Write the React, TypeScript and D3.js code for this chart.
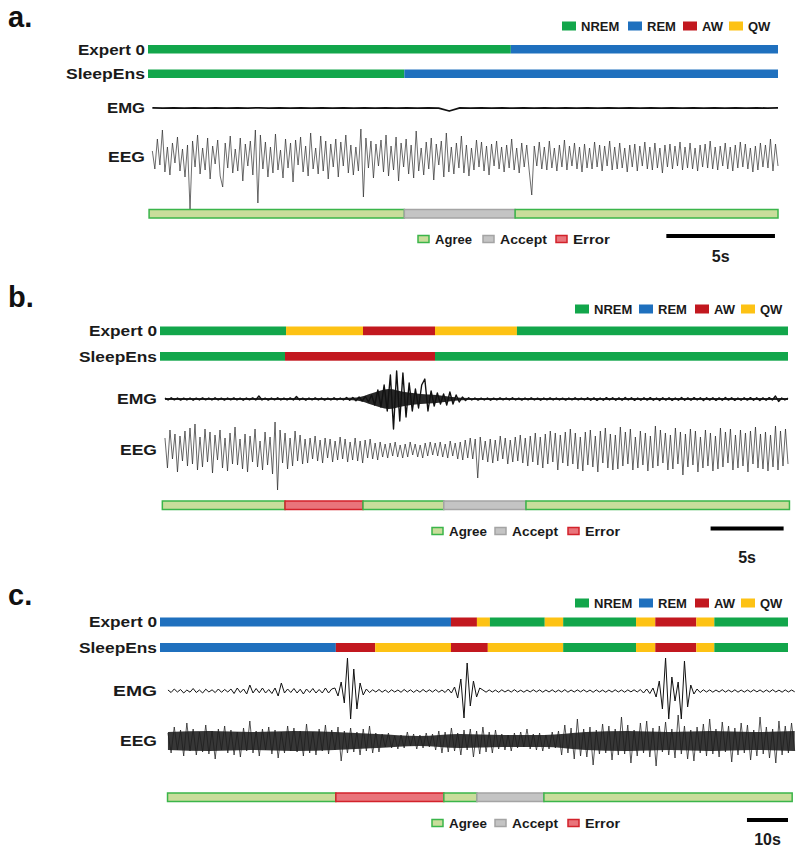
import React from "react";
import * as d3 from "d3";

const W = 800;
const H = 848;
const FONT = "'Liberation Sans', Arial, sans-serif";

const STAGES = ["NREM", "REM", "AW", "QW"];
const STAGE_COLORS = ["#12a64b", "#1f70be", "#c2181f", "#fdc214"];
const AGREE_LABELS = ["Agree", "Accept", "Error"];
const AGREE_FILL = ["#c9dd9b", "#c4c4c4", "#e9747b"];
const AGREE_STROKE = ["#3bb54a", "#a4a4a4", "#d2222b"];

// hypnograms: [stage index, start (s), end (s)]
const A_EXPERT = [[0, 0, 16.7], [1, 16.7, 29]];
const A_SLEEPENS = [[0, 0, 11.8], [1, 11.8, 29]];
const A_AGREE = [[0, 0.05, 11.8], [1, 11.8, 16.9], [0, 16.9, 29]];

const B_EXPERT = [[0, 0, 8.63], [3, 8.63, 13.9], [2, 13.9, 18.83], [3, 18.83, 24.44], [0, 24.44, 43]];
const B_SLEEPENS = [[0, 0, 8.56], [2, 8.56, 18.83], [0, 18.83, 43]];
const B_AGREE = [[0, 0.16, 8.56], [2, 8.56, 13.9], [0, 13.9, 19.43], [1, 19.43, 25.06], [0, 25.06, 43.1]];

const C_EXPERT = [[1, 0, 69.5], [2, 69.5, 75.7], [3, 75.7, 78.8], [0, 78.8, 91.9], [3, 91.9, 96.3], [0, 96.3, 113.7], [3, 113.7, 118.3], [2, 118.3, 128.1], [3, 128.1, 132.4], [0, 132.4, 150]];
const C_SLEEPENS = [[1, 0, 42], [2, 42, 51.4], [3, 51.4, 69.5], [2, 69.5, 78.3], [3, 78.3, 96.3], [0, 96.3, 113.7], [3, 113.7, 118.3], [2, 118.3, 128.1], [3, 128.1, 132.4], [0, 132.4, 150]];
const C_AGREE = [[0, 1.8, 42], [2, 42, 67.8], [0, 67.8, 75.7], [1, 75.7, 91.7], [0, 91.7, 151]];

// traces (arbitrary units, + is up)
const EMG_A = [0.8, -1, 1, -0.8, 1.2, -1, 0.9, -1.1, 1, -0.9, 1.1, -1, 0.8, -1.2, 1, -0.9, 1.1, -1, 1, -0.8,
  1, -1.1, 0.9, -1, 1.2, -0.9, 1, -1, -20, 1, -0.9, 1.1, -1, 0.8, -1.2, 1, -0.9, 1.1, -1, 1,
  -0.8, 1, -1.1, 0.9, -1, 1.2, -0.9, 1, -1, 0.8, -1.2, 1, -0.9, 1.1, -1, 1, -0.8, 1, -1.1, 0.9];

const EEG_A = [6, -12, 18, -8, 27, -15, 10, -18, 14, -6,
  20, -14, 8, -20, 12, -52, 16, -10, 22, -17,
  9, -13, 19, -22, 11, -7, 17, -19, -30, 14,
  -11, 21, -16, 8, -14, 19, -24, 13, -9, 16,
  -18, 27, -46, 22, -12, 15, -20, 10, -16, 23,
  -13, 7, -21, 18, -11, 14, -25, 17, -8, 20,
  -15, 11, -19, 24, -12, 9, -17, 21, -14, 16,
  -22, 13, -10, 18, -20, 15, -9, 22, -16, 12,
  -18, 10, -14, 28, -40, 19, -11, 16, -21, 13,
  -9, 17, -15, 22, -19, 11, -13, 20, -24, 14,
  -10, 18, -17, 12, -21, 26, -14, 9, -18, 15,
  -12, 19, -23, 13, -8, 16, -20, 24, -15, 10,
  -17, 14, -11, 21, -16, 12, -19, 9, -13, 17,
  -10, 15, -14, 11, -18, 13, -9, 16, -12, 10,
  -15, 12, -11, 18, -13, 9, -16, 14, -10, 12,
  -14, -38, 11, -9, 15, -12, 10, -13, 16, -11,
  9, -14, 12, -10, 17, -13, 11, -9, 14, -12,
  10, -15, 13, -11, 9, -12, 15, -10, 12, -14,
  11, -9, 16, -13, 10, -12, 14, -11, 9, -15,
  12, -10, 13, -14, 11, -9, 15, -12, 10, -13,
  14, -11, 9, -16, 12, -10, 13, -12, 11, -9,
  15, -13, 10, -11, 14, -12, 9, -14, 12, -10,
  13, -11, 16, -12, 10, -13, 11, -9, 14, -12,
  10, -14, 12, -11, 15, -10, 13, -12, 9, -15,
  11, -13, 14, -10, 12, -11, 18, -14, 13, -9];

const EMG_B = [1, -1, 1.2, -0.8, 1, -1.1, 0.9, -1, 1, -1.2, 0.8, -1, 1.1, -0.9, 1, -1, 1.2, -1, 0.9, -1.1,
  1, -0.9, 1.1, -1, 0.8, -1.2, 1, -0.9, 1.1, -1, 3, -1, 0.9, -1.1, 1, -0.8, 1.2, -1, 0.9, -1,
  1.1, -1, 2.5, -1, 0.9, -1.2, 1, -0.8, 1.1, -1, 1, -1.1, 0.9, -1, 1.2, -0.9, 1, -1, 1.5, -1.2,
  1.5, -1.8, 2, -2, 2.5,
  -3, 4, -6, 9, -8, 14, -12, 24, -30, 28, -22, 26, -18, 16, -12, 10, -9, 14, 20, -12,
  8, -7, 6, -5, 5, -6, 7, -5, 4, -3,
  2, -1.5, 1.2, -1, 1, -1.1, 0.9, -1, 1, -1.2, 0.8, -1, 1.1, -0.9, 1, -1, 1.2, -1, 0.9, -1.1,
  1, -0.9, 1.1, -1, 0.8, -1.2, 1, -0.9, 1.1, -1, 1, -1, 0.9, -1.1, 1, -0.8, 1.2, -1, 0.9, -1,
  1.3, -1.2, 1.1, -1.4, 1, -1.2, 1.4, -1, 1.2, -1.3, 1.1, -1.2, 1.5, -1, 1.2, -1.4, 1, -1.3, 1.2, -1.1,
  1.4, -1.2, 1, -1.5, 1.3, -1.1, 1.2, -1.4, 1, -1.2, 1.5, -1.3, 1.1, -1.2, 1.4, -1, 1.3, -1.5, 1.2, -1.1,
  1.2, -1.4, 1.1, -1.3, 1.5, -1.1, 1.2, -1.4, 1, -1.3, 1.2, -1.1, 1.4, -1.2, 1.3, -1.5, 1.1, -1.2, 1.4, -1,
  3, -2.5, 1, -1, 0.8];
// envelope of the EMG burst in panel b
const EMG_B_CORE = [1, 1, 1, 1, 1, 1, 1, 1, 1, 1, 1, 1, 1.5, 6, 10, 7, 5, 4, 2, 1,
  1, 1, 1, 1, 1, 1, 1, 1, 1, 1, 1, 1, 1, 1, 1, 1, 1, 1, 1, 1];

const EEG_B = [12, -18, 20, -9, 16, -22, 14, -11, 19, -16,
  22, -14, 26, -20, 13, -17, 21, -12, 18, -23,
  15, -10, 20, -18, 12, -21, 17, -14, 23, -15,
  11, -19, 16, -22, 14, -12, 21, -17, 9, -20,
  18, -15, 13, -24, 28, -40, 20, -13, 17, -19,
  12, -16, 19, -11, 15, -14, 11, -13, 12, -9,
  14, -11, 10, -13, 12, -8, 11, -12, 9, -10,
  13, -9, 11, -12, 8, -10, 12, -11, 9, -13,
  10, -8, 11, -9, 7, -10, 8, -7, 6, -8,
  7, -6, 8, -7, 5, -8, 6, -7, 8, -5,
  6, -7, 5, -8, 7, -6, 8, -5, 7, -6,
  8, -7, 6, -8, 9, -6, 7, -9, 8, -10,
  10, -8, 12, -9, 11, -28, 13, -10, 9, -12,
  11, -13, 10, -11, 14, -9, 12, -14, 10, -12,
  13, -11, 15, -13, 12, -16, 14, -12, 17, -15,
  13, -18, 16, -14, 19, -12, 17, -20, 15, -13,
  18, -16, 21, -14, 17, -19, 13, -21, 18, -15,
  20, -17, 14, -22, 19, -13, 22, -18, 16, -20,
  15, -19, 23, -16, 18, -14, 21, -20, 13, -18,
  19, -15, 17, -21, 14, -18, 24, -16, 20, -13,
  17, -20, 15, -19, 22, -14, 18, -25, 16, -17,
  21, -15, 19, -22, 13, -18, 20, -16, 17, -21,
  14, -19, 22, -17, 18, -13, 21, -20, 15, -18,
  20, -16, 17, -22, 19, -14, 23, -18, 16, -19,
  18, -21, 15, -17, 24, -20, 19, -16, 21, -14];

const EMG_C = [1, -1.5, 2, -1, 1.5, -2, 1, -1.2, 2.5, -1.5, 1, -2, 1.8, -1, 1.2, -1.6, 2, -1.3, 1.5, -1,
  2, -2.5, 3, -1.5, 2, -3, 6, -2, 2.5, -1.8, 3, -2, 1.5, -2.5, 3, -5, 8, -2, 2, -1.5,
  2.5, -2, 1.8, -3, 2, -1.5, 2.5, -2, 1.5, -2, 3, -2, 2,
  3, -5, 9, -12, 33, -28, 22, -18, 8, -4,
  2, -1.5, 1.2, -1, 1.5, -1.2, 1, -1.5, 1.2, -1, 1, -1.3, 1.5, -1, 1.2, -1.4, 1, -1.2, 1.5, -1,
  1.2, -1, 1.4, -1.2, 1, -1.5, 2, -2,
  4, -7, 12, -27, 28, -15, 10, -6, 3,
  1, -1.2, 1.1, -1, 0.9, -1.3, 1.2, -1, 1, -1.1, 1.3, -1, 0.8, -1.2, 1, -1, 1.2, -0.9, 1.1, -1.2,
  1, -1, 1.2, -1.1, 0.9, -1, 1.3, -1.2, 1, -1, 1.1, -0.9, 1.2, -1, 1, -1.3, 1.1, -1, 0.9, -1.2,
  1, -1.1, 1.2, -1, 1, -1.2, 1.1, -0.9, 1.2, -1, 1.5, -2, 2, -2.5,
  3, -6, 10, -18, 33, -28, 14, -10, 9, -28, 30, -16, 6, -3,
  2, -1.5, 1.2, -1, 1.1, -1.2, 1, -1, 1.3, -1.1, 0.9, -1, 1.2, -1.2, 1, -1.1, 1, -1, 1.2, -0.9,
  1.1, -1.2, 1, -1, 1.3, -1, 0.9, -1.2, 1.1, -1, 1, -0.8];

const EEG_C = [8, -12, 14, -9, 11, -15, 18, -10, 12, -14, 9, -11, 16, -13, 10, -18, 12, -9, 15, -12,
  11, -14, 9, -16, 13, -10, 20, -12, 10, -15, 12, -9, 14, -13, 11, -17, 9, -12, 15, -10,
  13, -11, 10, -15, 17, -12, 9, -14, 12, -10, 16, -13, 11, -9, 14, -20, 10, -12, 13, -11,
  9, -14, 12, -10, 15, -12, 8, -11, 7, -6, 8, -7, 5, -8, 6, -7, 9, -5, 7, -8,
  6, -7, 8, -6, 7, -9, 10, -12, 9, -11, 13, -10, 8, -14, 11, -9, 12, -16, 10, -13,
  14, -11, 9, -12, 11, -8, 7, -9, 6, -10, 8, -7, 9, -6, 12, -8, 7, -9, 8, -10,
  6, -8, 9, -7, 10, -14, 16, -12, 13, -18, 22, -15, 12, -16, 14, -24, 11, -13, 17, -12,
  15, -19, 12, -14, 24, -13, 16, -22, 11, -15, 18, -12, 20, -16, 13, -25, 15, -11, 19, -14,
  12, -17, 26, -13, 15, -18, 11, -20, 14, -12, 17, -15, 22, -13, 12, -16, 19, -11, 15, -21,
  13, -14, 18, -12, 16, -19, 11, -15, 24, -13, 14, -17, 12, -22, 20, -14, 15, -12, 18, -10];
// dense core of the EEG in panel c (half width)
const EEG_C_CORE = [9, 10, 9, 10, 9, 7, 5, 7, 6, 6, 9, 10, 9, 10, 9, 10];

const panels = [
  {
    letter: "a.", letterY: 27, duration: 29, xRange: [148, 778],
    legendY: 26, legendX: [562, 628, 683, 729], legendFont: 13,
    labelX: 145, labelW: [67, 79, 38, 37], labelFont: 15,
    expertY: 45, ensY: 69.5, barH: 8.5,
    expert: A_EXPERT, ens: A_SLEEPENS,
    emg: EMG_A, emgY: 108, emgT: [0.2, 29], emgGain: 0.15, emgWidth: 1.8,
    eeg: EEG_A, eegY: 157, eegT: [0.2, 29], eegColor: "#2e2e2e", eegWidth: 0.7,
    agree: A_AGREE, agreeY: 209.5,
    agreeLegendY: 239, agreeLegendX: [418, 483, 556], agreeTextW: [37, 47, 37],
    scaleT: [23.86, 28.86], scaleY: 236, scaleLabel: "5s", scaleLabelY: 262,
  },
  {
    letter: "b.", letterY: 307, duration: 43, xRange: [160, 788],
    legendY: 309, legendX: [575, 639, 695, 741], legendFont: 13,
    labelX: 157, labelW: [68, 78, 40, 37], labelFont: 15,
    expertY: 326.5, ensY: 352, barH: 8.7,
    expert: B_EXPERT, ens: B_SLEEPENS,
    emg: EMG_B, emgY: 399, emgT: [0.34, 43], emgGain: 1, emgWidth: 1.4, emgCore: EMG_B_CORE,
    eeg: EEG_B, eegY: 450, eegT: [0.34, 43], eegColor: "#262626", eegWidth: 0.7,
    agree: B_AGREE, agreeY: 501,
    agreeLegendY: 531, agreeLegendX: [432, 495, 568], agreeTextW: [38, 46, 35],
    scaleT: [37.7, 42.7], scaleY: 528.5, scaleLabel: "5s", scaleLabelY: 563,
  },
  {
    letter: "c.", letterY: 605, duration: 150, xRange: [160, 788],
    legendY: 603, legendX: [575, 639, 695, 741], legendFont: 13,
    labelX: 157, labelW: [68, 78, 44, 37], labelFont: 15,
    expertY: 617.5, ensY: 643, barH: 9,
    expert: C_EXPERT, ens: C_SLEEPENS,
    emg: EMG_C, emgY: 691, emgT: [1.9, 151.6], emgGain: 1, emgWidth: 1,
    eeg: EEG_C, eegY: 741, eegT: [1.9, 151.6], eegColor: "#1e1e1e", eegWidth: 0.75,
    eegCore: EEG_C_CORE,
    agree: C_AGREE, agreeY: 793,
    agreeLegendY: 823, agreeLegendX: [432, 495, 568], agreeTextW: [38, 46, 35],
    scaleT: [140.2, 150], scaleY: 820, scaleLabel: "10s", scaleLabelY: 845,
  },
];

function Trace({ values, t, x, cy, color, width, gain = 1 }) {
  const idx = d3.scaleLinear().domain([0, values.length - 1]).range(t);
  const y = d3.scaleLinear().domain([-50, 50]).range([cy + 50 * gain, cy - 50 * gain]);
  const line = d3.line<number>().x((_, k) => x(idx(k))).y((d) => y(d));
  return <path d={line(values) || ""} fill="none" stroke={color} strokeWidth={width} strokeLinejoin="round" />;
}

function Core({ values, t, x, cy, fill, opacity }) {
  const idx = d3.scaleLinear().domain([0, values.length - 1]).range(t);
  const y = d3.scaleLinear().domain([-50, 50]).range([cy + 50, cy - 50]);
  const area = d3.area<number>().x((_, k) => x(idx(k))).y0((d) => y(-d)).y1((d) => y(d)).curve(d3.curveMonotoneX);
  return <path d={area(values) || ""} fill={fill} opacity={opacity} />;
}

function Panel({ p }) {
  const x = d3.scaleLinear().domain([0, p.duration]).range(p.xRange);
  const labels = ["Expert 0", "SleepEns", "EMG", "EEG"];
  const labelYs = [p.expertY + p.barH / 2, p.ensY + p.barH / 2, p.emgY, p.eegY];
  const bar = (segs, y0, key) =>
    segs.map(([s, a, b], i) => (
      <rect key={key + i} x={x(a)} y={y0} width={x(b) - x(a)} height={p.barH} fill={STAGE_COLORS[s]} />
    ));

  return (
    <g>
      <text x={8} y={p.letterY} fontSize={29} fontWeight="bold" fontFamily={FONT} fill="#111">{p.letter}</text>

      {STAGES.map((s, i) => (
        <g key={s}>
          <rect x={p.legendX[i]} y={p.legendY - 4.5} width={14} height={9} fill={STAGE_COLORS[i]} />
          <text x={p.legendX[i] + 19} y={p.legendY + 4.7} fontSize={p.legendFont} fontWeight="bold" fontFamily={FONT} fill="#1a1a1a">{s}</text>
        </g>
      ))}

      {labels.map((l, i) => (
        <text key={l} x={p.labelX} y={labelYs[i] + 5.3} textAnchor="end" fontSize={p.labelFont} fontWeight="bold"
          fontFamily={FONT} fill="#1a1a1a" textLength={p.labelW[i]} lengthAdjust="spacingAndGlyphs">{l}</text>
      ))}

      {bar(p.expert, p.expertY, "e")}
      {bar(p.ens, p.ensY, "s")}

      {p.eegCore && <Core values={p.eegCore} t={p.eegT} x={x} cy={p.eegY} fill="#141414" opacity={0.85} />}
      <Trace values={p.eeg} t={p.eegT} x={x} cy={p.eegY} color={p.eegColor} width={p.eegWidth} />
      {p.emgCore && <Core values={p.emgCore} t={p.emgT} x={x} cy={p.emgY} fill="#111" opacity={0.9} />}
      <Trace values={p.emg} t={p.emgT} x={x} cy={p.emgY} color="#111" width={p.emgWidth} gain={p.emgGain} />

      {p.agree.map(([s, a, b], i) => (
        <rect key={"g" + i} x={x(a)} y={p.agreeY} width={x(b) - x(a)} height={8.5}
          fill={AGREE_FILL[s]} stroke={AGREE_STROKE[s]} strokeWidth={1.5} />
      ))}

      {AGREE_LABELS.map((l, i) => (
        <g key={l}>
          <rect x={p.agreeLegendX[i]} y={p.agreeLegendY - 3.5} width={11} height={7}
            fill={AGREE_FILL[i]} stroke={AGREE_STROKE[i]} strokeWidth={1.5} />
          <text x={p.agreeLegendX[i] + 17} y={p.agreeLegendY + 5} fontSize={13.5} fontWeight="bold" fontFamily={FONT}
            fill="#1a1a1a" textLength={p.agreeTextW[i]} lengthAdjust="spacingAndGlyphs">{l}</text>
        </g>
      ))}

      <line x1={x(p.scaleT[0])} x2={x(p.scaleT[1])} y1={p.scaleY} y2={p.scaleY} stroke="#000" strokeWidth={4} />
      <text x={(x(p.scaleT[0]) + x(p.scaleT[1])) / 2} y={p.scaleLabelY} textAnchor="middle" fontSize={16}
        fontWeight="bold" fontFamily={FONT} fill="#1a1a1a">{p.scaleLabel}</text>
    </g>
  );
}

export default function App() {
  return (
    <svg width={W} height={H} style={{ position: "absolute", left: 0, top: 0, background: "#fff" }}>
      <rect width={W} height={H} fill="#fff" />
      {panels.map((p) => <Panel key={p.letter} p={p} />)}
    </svg>
  );
}
